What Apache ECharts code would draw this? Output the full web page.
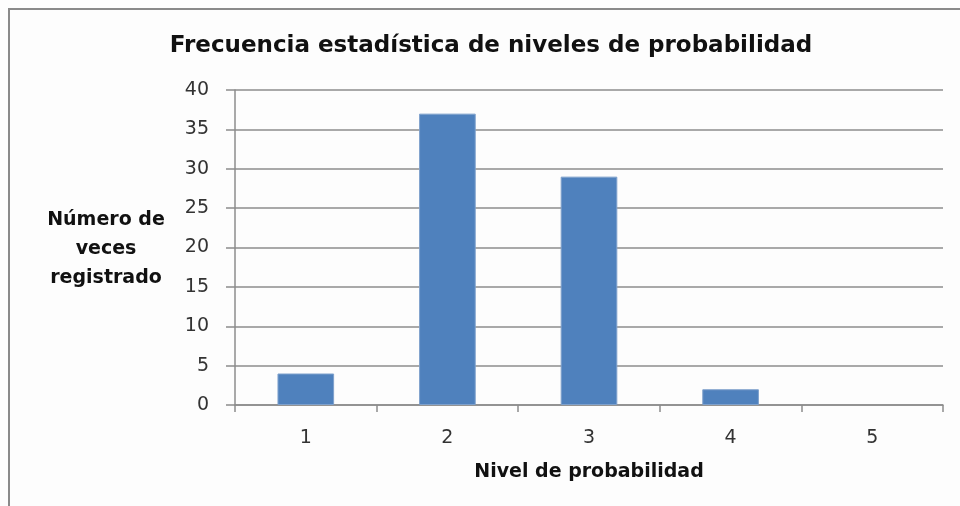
<!DOCTYPE html>
<html><head><meta charset="utf-8">
<script src="https://cdn.jsdelivr.net/npm/echarts@6/dist/echarts.min.js"></script>
<style>html,body{margin:0;padding:0;background:#fff}#c{width:960px;height:506px}</style>
</head><body><div id="c"></div>
<script>
const categories = ['1','2','3','4','5'];
const values = [4, 37, 29, 2, 0];
const titleText = 'Frecuencia estadística de niveles de probabilidad';
const yName = 'Número de\nveces\nregistrado';
const xName = 'Nivel de probabilidad';

const chart = echarts.init(document.getElementById('c'));
const F = '"DejaVu Sans", sans-serif';
chart.setOption({
  animation: false,
  backgroundColor: '#fdfdfd',
  title: {
    text: titleText, left: 486, top: 30, textAlign: 'center',
    textStyle: {fontFamily: F, fontSize: 23, fontWeight: 'bold', color: '#111'}
  },
  graphic: [
    {type: 'rect', shape: {x: 9, y: 9, width: 1000, height: 600}, style: {fill: 'none', stroke: '#8a8a8a', lineWidth: 2}, silent: true},
    {type: 'text', x: 106, y: 206, style: {text: yName, fontFamily: F, fontSize: 19, fontWeight: 'bold', fill: '#111', align: 'center', lineHeight: 29}}
  ],
  grid: {left: 235, right: 17, top: 90, bottom: 101},
  xAxis: {
    type: 'category', data: categories,
    name: xName, nameLocation: 'middle', nameGap: 58,
    nameTextStyle: {fontFamily: F, fontSize: 19, fontWeight: 'bold', color: '#111'},
    axisLine: {lineStyle: {color: '#8c8c8c', width: 1.5}},
    axisTick: {show: true, length: 7, lineStyle: {color: '#8c8c8c', width: 1.5}},
    axisLabel: {fontFamily: F, fontSize: 19, color: '#333', margin: 24}
  },
  yAxis: {
    type: 'value', min: 0, max: 40, interval: 5,
    axisLine: {show: true, lineStyle: {color: '#8c8c8c', width: 1.5}},
    axisTick: {show: true, length: 9, lineStyle: {color: '#8c8c8c', width: 1.5}},
    axisLabel: {fontFamily: F, fontSize: 19, color: '#333', margin: 26},
    splitLine: {lineStyle: {color: '#8c8c8c', width: 1.5}}
  },
  series: [{
    type: 'bar', barCategoryGap: '60%',
    data: values.map(v => v === 0 ? {value: v, itemStyle: {borderWidth: 0, opacity: 0}} : v),
    itemStyle: {color: '#4f81bd', borderColor: '#7fa1cc', borderWidth: 1}
  }]
});
</script></body></html>
